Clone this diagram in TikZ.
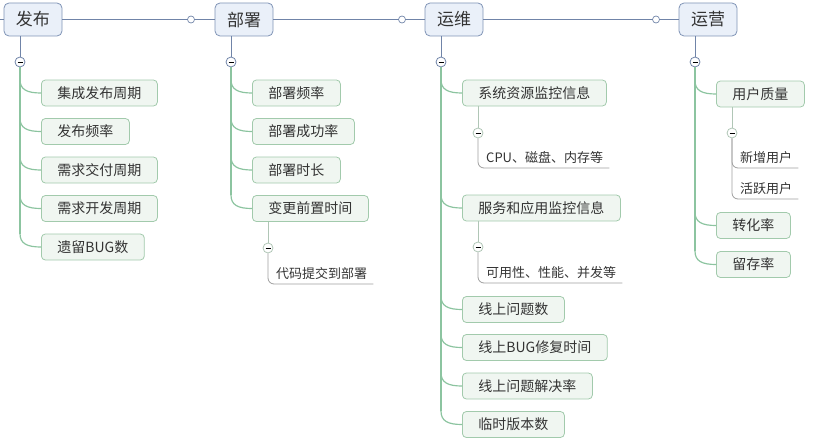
\documentclass[tikz,border=0pt]{standalone}
\usepackage{fontspec}
\setmainfont{Noto Sans CJK SC}
\definecolor{lineblue}{RGB}{112,132,168}
\definecolor{topfill}{RGB}{234,240,249}
\definecolor{topdraw}{RGB}{128,148,182}
\definecolor{linegreen}{RGB}{140,196,160}
\definecolor{leaffill}{RGB}{240,246,241}
\definecolor{leafdraw}{RGB}{162,202,172}
\definecolor{subgreen}{RGB}{176,198,182}
\definecolor{subgray}{RGB}{158,158,158}
\definecolor{txt}{RGB}{51,51,51}
\tikzset{
  topbox/.style={draw=topdraw, fill=topfill, rounded corners=5pt, line width=0.8pt,
    minimum width=58pt, minimum height=33pt, text=txt, font=\fontsize{17}{20}\selectfont},
  leaf/.style={draw=leafdraw, fill=leaffill, rounded corners=4pt, line width=0.8pt,
    anchor=west, minimum height=26pt, inner xsep=16pt, inner ysep=0pt,
    text=txt, font=\fontsize{14}{16}\selectfont},
  subleaf/.style={anchor=south west, inner xsep=6pt, inner ysep=4pt,
    text=txt, font=\fontsize{13}{15}\selectfont},
  ring/.style={circle, draw=lineblue, fill=white, line width=0.7pt, inner sep=0pt, minimum size=7pt},
  fold/.style={circle, draw=lineblue, fill=white, line width=0.8pt, inner sep=0pt, minimum size=10pt,
    path picture={\draw[black, line width=0.9pt]
      ([xshift=-2.5pt]path picture bounding box.center) -- ([xshift=2.5pt]path picture bounding box.center);}},
  subfold/.style={fold, draw=subgreen},
  mainline/.style={draw=lineblue, line width=0.8pt},
  branch/.style={draw=linegreen, line width=1.2pt},
  subtop/.style={draw=subgreen, line width=0.8pt},
  subline/.style={draw=subgray, line width=0.8pt, rounded corners=6pt},
}
\begin{document}
\begin{tikzpicture}[x=1pt,y=-1pt]
\useasboundingbox (0,0) rectangle (816,444);
% top row
\coordinate (st) at (0,19.5);
\node[topbox] (fb) at (33,19.5) {发布};
\node[topbox] (bs) at (244,19.5) {部署};
\node[topbox] (yw) at (454,19.5) {运维};
\node[topbox] (yy) at (708,19.5) {运营};
\node[ring] (r1) at (191,19.5) {};
\node[ring] (r2) at (402,19.5) {};
\node[ring] (r3) at (656,19.5) {};
\draw[mainline] (st) -- (fb);
\draw[mainline] (fb) -- (r1) -- (bs);
\draw[mainline] (bs) -- (r2) -- (yw);
\draw[mainline] (yw) -- (r3) -- (yy);

% fold circles
\node[fold] (f1) at (20,62) {};
\node[fold] (f2) at (231,62) {};
\node[fold] (f3) at (441,62) {};
\node[fold] (f4) at (695,62) {};
\foreach \f/\t in {f1/fb,f2/bs,f3/yw,f4/yy}
  \draw[mainline] (\f |- \t.south) -- (\f.north);

% 发布
\foreach \t [count=\i] in {集成发布周期,发布频率,需求交付周期,需求开发周期,遗留BUG数}{
  \node[leaf] (fb\i) at (41,{54.5+38.5*\i}) {\t};
  \draw[branch] (f1 |- fb\i.north) .. controls +(0,10) and +(-14,0) .. (fb\i.west);
}
\draw[branch] (f1.south) -- (f1 |- fb5.north);

% 部署
\foreach \t [count=\i] in {部署频率,部署成功率,部署时长,变更前置时间}{
  \node[leaf] (bs\i) at (252,{54.5+38.5*\i}) {\t};
  \draw[branch] (f2 |- bs\i.north) .. controls +(0,10) and +(-14,0) .. (bs\i.west);
}
\draw[branch] (f2.south) -- (f2 |- bs4.north);
\node[subfold] (g1) at (268,248) {};
\node[subleaf] (dm) at (270,284) {代码提交到部署};
\draw[subtop] (g1 |- bs4.south) -- (g1.north);
\draw[subline] (g1.south) |- (dm.south east);

% 运维
\foreach \t/\y [count=\i] in {系统资源监控信息/93,服务和应用监控信息/208,线上问题数/309.5,
    线上BUG修复时间/347.5,线上问题解决率/386,临时版本数/424.5}{
  \node[leaf] (yw\i) at (462,\y) {\t};
  \draw[branch] (f3 |- yw\i.north) .. controls +(0,10) and +(-14,0) .. (yw\i.west);
}
\draw[branch] (f3.south) -- (f3 |- yw6.north);
\node[subfold] (g2) at (478,133) {};
\node[subleaf] (cp) at (480,168) {CPU、磁盘、内存等};
\draw[subtop] (g2 |- yw1.south) -- (g2.north);
\draw[subline] (g2.south) |- (cp.south east);
\node[subfold] (g3) at (478,247) {};
\node[subleaf] (ky) at (480,283) {可用性、性能、并发等};
\draw[subtop] (g3 |- yw2.south) -- (g3.north);
\draw[subline] (g3.south) |- (ky.south east);

% 运营
\foreach \t/\y [count=\i] in {用户质量/94,转化率/225.5,留存率/264.5}{
  \node[leaf] (yy\i) at (716,\y) {\t};
  \draw[branch] (f4 |- yy\i.north) .. controls +(0,10) and +(-14,0) .. (yy\i.west);
}
\draw[branch] (f4.south) -- (f4 |- yy3.north);
\node[subfold] (g4) at (732,133) {};
\node[subleaf] (xz) at (734,168) {新增用户};
\node[subleaf] (hy) at (734,199) {活跃用户};
\draw[subtop] (g4 |- yy1.south) -- (g4.north);
\draw[subline] (g4.south) |- (xz.south east);
\draw[subline] (g4.south) |- (hy.south east);
\end{tikzpicture}
\end{document}
